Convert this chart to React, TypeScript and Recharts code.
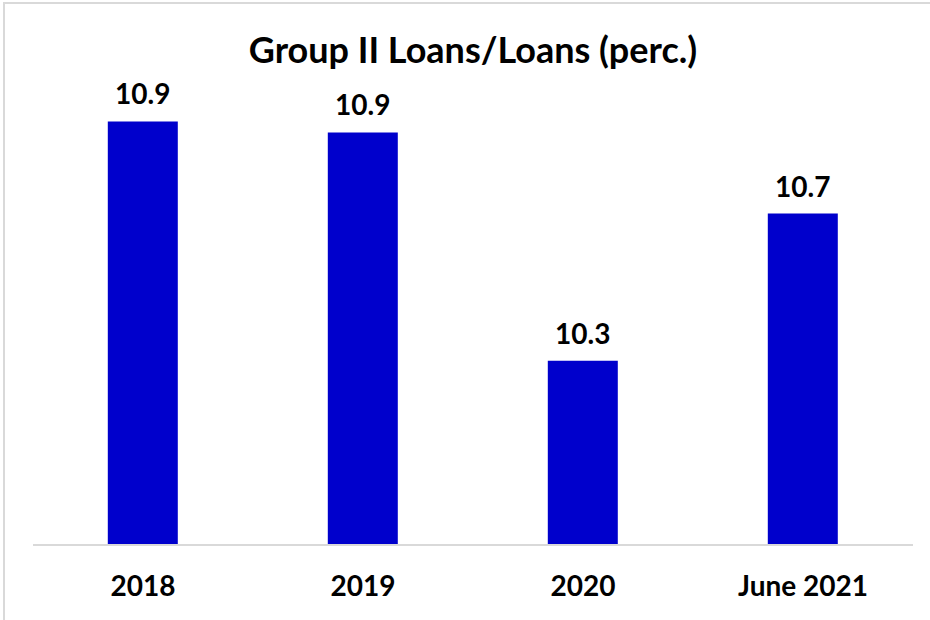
import React from 'react';
import { BarChart, Bar, XAxis, YAxis, LabelList } from 'recharts';

const categories = ['2018', '2019', '2020', 'June 2021'];
const values = [10.95, 10.92, 10.3, 10.7];
const labelTexts = ['10.9', '10.9', '10.3', '10.7'];

const data = categories.map((c, i) => ({ name: c, value: values[i], label: labelTexts[i] }));

const FONT = 'Lato, "Open Sans", "Liberation Sans", sans-serif';

export default function App() {
  return (
    <div style={{ position: 'absolute', left: 0, top: 0, width: 930, height: 620, background: '#fff', overflow: 'hidden' }}>
      <div style={{ position: 'absolute', left: 3, top: 2, width: 940, height: 640, borderTop: '2px solid #d9d9d9', borderLeft: '2px solid #d9d9d9', boxSizing: 'border-box' }} />
      <div style={{ position: 'absolute', left: 0, top: 28, width: 946, textAlign: 'center', fontFamily: FONT, fontWeight: 700, fontSize: 36, lineHeight: '43px', color: '#000' }}>
        Group II Loans/Loans (perc.)
      </div>
      <div style={{ position: 'absolute', left: 0, top: 0 }}>
        <BarChart width={930} height={620} data={data} margin={{ top: 103, right: 17, bottom: 0, left: 33 }} barCategoryGap="34%">
          <XAxis
            dataKey="name"
            axisLine={{ stroke: '#d9d9d9', strokeWidth: 2 }}
            tickLine={false}
            tick={{ fill: '#000', fontFamily: FONT, fontWeight: 700, fontSize: 28 }}
            tickMargin={25}
            height={75}
          />
          <YAxis hide domain={[9.8, 11.0]} allowDataOverflow />
          <Bar dataKey="value" fill="#0000CC" isAnimationActive={false}>
            <LabelList dataKey="label" position="top" offset={17} style={{ fill: '#000', fontFamily: FONT, fontWeight: 700, fontSize: 28 }} />
          </Bar>
        </BarChart>
      </div>
    </div>
  );
}
